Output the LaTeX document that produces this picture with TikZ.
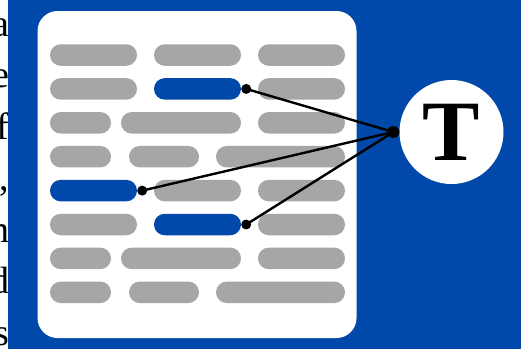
\documentclass[tikz,border=0pt]{standalone}
\usepackage{fontspec}
\setmainfont{Liberation Serif}
\usepackage{tikz}
\usetikzlibrary{positioning}

\definecolor{docblue}{RGB}{0,72,170}
\definecolor{docgray}{RGB}{166,166,166}

\tikzset{
  bar/.style={rectangle, rounded corners=10.7pt, inner sep=0pt, minimum height=21.5pt},
  barg/.style={bar, fill=docgray},
  barb/.style={bar, fill=docblue},
  dot/.style={circle, fill=black, inner sep=0pt, minimum size=10pt},
  link/.style={line width=2.4pt},
}

\begin{document}
\begin{tikzpicture}[x=1pt, y=-1pt]
   \useasboundingbox (0,0) rectangle (521,349);
   \fill[white] (0,0) rectangle (521,349);

   % running text behind the panel
   \begin{scope}[font=\fontsize{38}{46}\selectfont]
     \foreach \ch [count=\i] in {a,e,f,{,},n,d,s}
       \node[anchor=base east, inner sep=0pt] (txt\i) at (9.5, {36+51.5*(\i-1)}) {\ch};
   \end{scope}

   \fill[docblue] (8,0) rectangle (521,349);
   \fill[white, rounded corners=20pt] (37.5,11) rectangle (356.5,338);

   % rows of words
   \foreach \r/\spans in {
       1/{50/137/barg,154/241/barg,258/345/barg},
       2/{50/137/barg,154/241/barb,258/345/barg},
       3/{50/111/barg,121/241/barg,258/345/barg},
       4/{50/111/barg,129/199/barg,216/345/barg},
       5/{50/137/barb,154/241/barg,258/345/barg},
       6/{50/137/barg,154/241/barb,258/345/barg},
       7/{50/111/barg,121/241/barg,258/345/barg},
       8/{50/111/barg,129/199/barg,216/345/barg}}
     \foreach \a/\b/\s [count=\c] in \spans
       \node[\s, minimum width=\b-\a] (w\r-\c) at ({(\a+\b)/2}, {55+33.9*(\r-1)}) {};

   % the token
   \node[circle, fill=white, inner sep=0pt, minimum size=104pt] (tok) at (451.5,132)
     {\fontsize{86}{86}\selectfont\bfseries T};

   \node[dot] (d1) at ([xshift=5pt]w2-2.east) {};
   \node[dot] (d2) at ([xshift=5pt]w5-1.east) {};
   \node[dot] (d3) at ([xshift=5pt]w6-2.east) {};
   \node[dot, minimum size=12pt] (hub) at ([xshift=-6pt]tok.west) {};

   \draw[link] (d1.center) -- (hub.center);
   \draw[link] (d2.center) -- (hub.center);
   \draw[link] (d3.center) -- (hub.center);
\end{tikzpicture}
\end{document}
